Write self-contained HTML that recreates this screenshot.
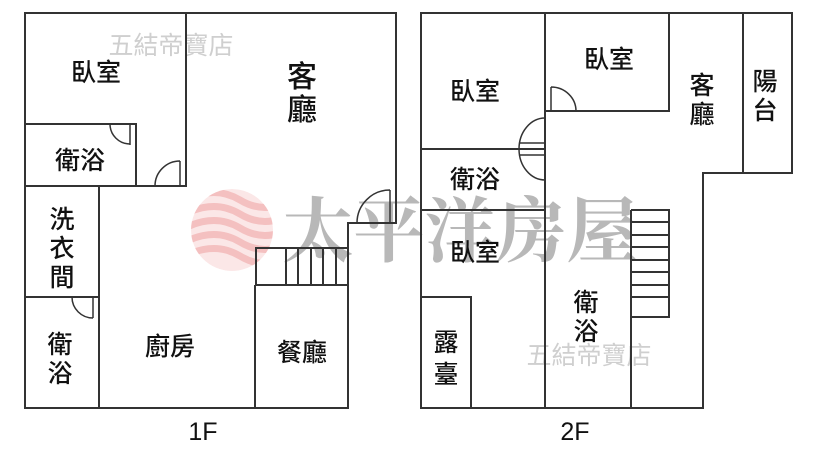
<!DOCTYPE html>
<html><head><meta charset="utf-8"><style>
html,body{margin:0;padding:0;background:#fff;}
svg{display:block;}
.t{font-family:"Liberation Sans","Noto Sans CJK TC",sans-serif;font-size:25px;font-weight:500;fill:#111;text-anchor:middle;}
</style></head><body>
<svg width="830" height="460" viewBox="0 0 830 460" xmlns="http://www.w3.org/2000/svg">
<defs><clipPath id="c"><circle cx="232" cy="230" r="41"/></clipPath></defs>
<g clip-path="url(#c)" fill="none" stroke="#f2b5b5" stroke-width="7" opacity="0.85">
<circle cx="232" cy="230" r="41" fill="#fbe3e3" stroke="none"/>
<path d="M185 200 Q215 185 240 200 T290 200"/>
<path d="M185 214 Q215 199 240 214 T290 214"/>
<path d="M185 228 Q215 213 240 228 T290 228"/>
<path d="M185 242 Q215 227 240 242 T290 242"/>
<path d="M185 256 Q215 241 240 256 T290 256"/>
</g>
<text x="460" y="256" font-family="'Noto Serif CJK SC',serif" font-weight="bold" font-size="71" fill="#b8b8b8" text-anchor="middle">太平洋房屋</text>
<text x="171" y="54" font-family="'Liberation Sans','Noto Sans CJK TC',sans-serif" font-size="25" fill="#cfcfcf" text-anchor="middle">五結帝寶店</text>
<text x="589" y="364" font-family="'Liberation Sans','Noto Sans CJK TC',sans-serif" font-size="25" fill="#cfcfcf" text-anchor="middle">五結帝寶店</text>

<g fill="none" stroke="#333" stroke-width="2">
<path d="M25 13 H396 V223 H348 V408 H25 Z"/>
<path d="M186 13 V186 H25"/>
<path d="M25 124 H136 V186"/>
<path d="M99 186 V408"/>
<path d="M25 297 H99"/>
<path d="M256 285 V248 H348"/>
<path d="M255 285 H348 M255 285 V408"/>
<path d="M286 248 V285 M298 248 V285 M311 248 V285 M323 248 V285 M336 248 V285"/>
<path d="M130 124 V145 M110 124 A20 20 0 0 0 130 144" stroke-width="1.5"/>
<path d="M180 161 V186 M155 186 A25 25 0 0 1 180 161" stroke-width="1.5"/>
<path d="M390 190 V223 M357 223 A33 33 0 0 1 390 190" stroke-width="1.5"/>
<path d="M93 297 V318 M72 297 A21 21 0 0 0 93 318" stroke-width="1.5"/>
<path d="M421 13 H792 V173 H703 V408 H421 Z"/>
<path d="M545 13 V408"/>
<path d="M421 149 H545 M421 210 H545"/>
<path d="M669 13 V111 H545"/>
<path d="M743 13 V173"/>
<path d="M631 210 H669 V317 H631 M631 210 V408"/>
<path d="M631 222 H669 M631 235 H669 M631 247 H669 M631 260 H669 M631 272 H669 M631 285 H669 M631 297 H669"/>
<path d="M421 297 H471 V408"/>
<path d="M551 87 V111 M551 87 A25 24 0 0 1 576 111" stroke-width="1.5"/>
<path d="M545 118 A26 31 0 0 0 545 180 M520 143 H545 M520 155 H545" stroke-width="1.5"/>
</g>

<text class="t" x="96" y="81">臥室</text>
<text class="t" x="302" y="87" style="font-size:30px">客</text>
<text class="t" x="302" y="120" style="font-size:30px">廳</text>
<text class="t" x="80" y="169">衛浴</text>
<text class="t" x="62" y="228">洗</text>
<text class="t" x="62" y="257">衣</text>
<text class="t" x="62" y="286">間</text>
<text class="t" x="60" y="353">衛</text>
<text class="t" x="60" y="382">浴</text>
<text class="t" x="170" y="355">廚房</text>
<text class="t" x="302" y="361">餐廳</text>
<text class="t" x="203" y="440" style="font-weight:normal">1F</text>

<text class="t" x="475" y="100">臥室</text>
<text class="t" x="609" y="68">臥室</text>
<text class="t" x="702" y="94">客</text>
<text class="t" x="702" y="123">廳</text>
<text class="t" x="765" y="90">陽</text>
<text class="t" x="765" y="119">台</text>
<text class="t" x="475" y="188">衛浴</text>
<text class="t" x="475" y="261">臥室</text>
<text class="t" x="586" y="311">衛</text>
<text class="t" x="586" y="340">浴</text>
<text class="t" x="446" y="351">露</text>
<text class="t" x="446" y="383">臺</text>
<text class="t" x="575" y="440" style="font-weight:normal">2F</text>
</svg>
</body></html>
